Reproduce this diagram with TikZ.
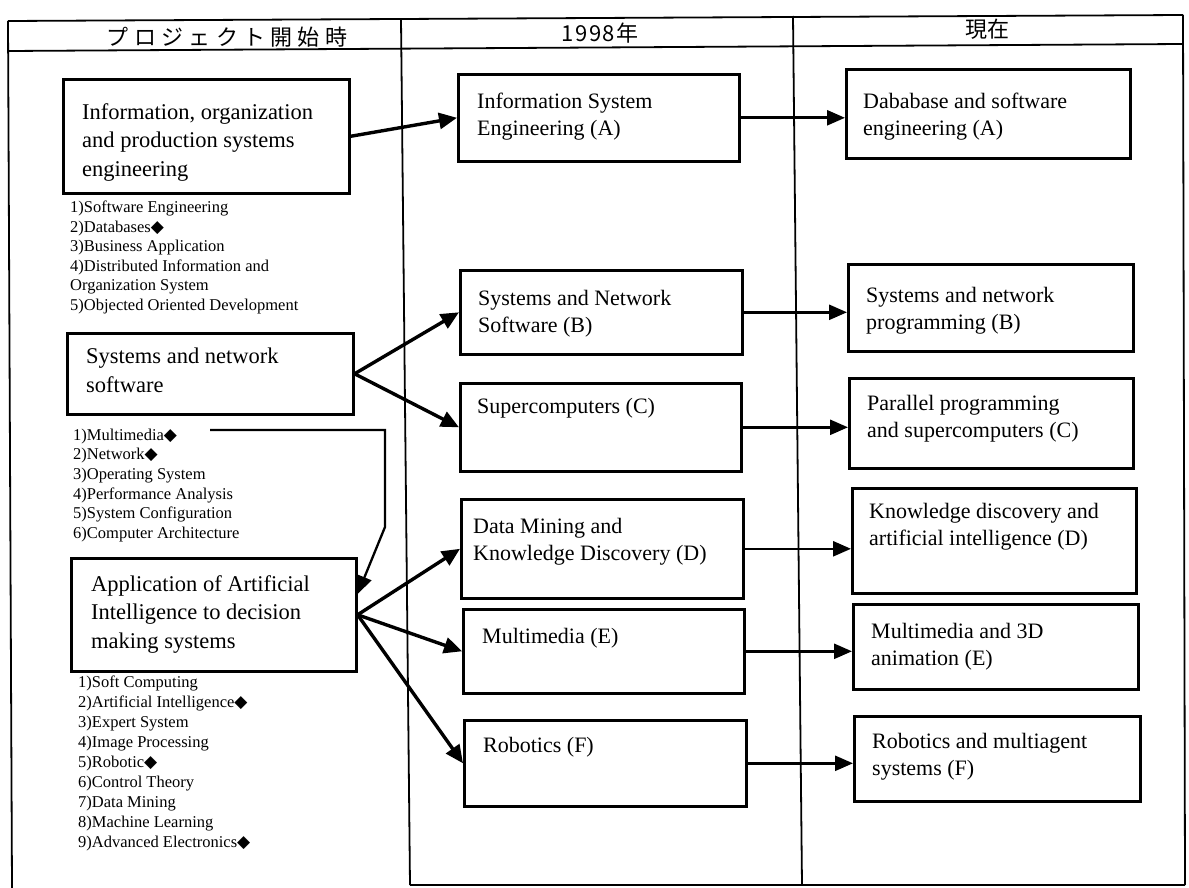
\documentclass[tikz,border=0pt]{standalone}
\usepackage{fontspec}
\setmainfont{Liberation Serif}
\newfontfamily\jpfont{Noto Sans CJK JP}
\newfontfamily\dmdfont{DejaVu Sans}
\usetikzlibrary{calc, positioning}
\usetikzlibrary{arrows.meta}

\newcommand{\dmd}{{\dmdfont\fontsize{17pt}{17pt}\selectfont ◆}}

\begin{document}
\begin{tikzpicture}[x=1pt, y=-1pt,
  frame/.style={line width=1.8pt},
  stagebox/.style={draw, line width=2.6pt, anchor=north west, inner sep=0pt},
  stagetext/.style={anchor=north west, align=left, inner sep=0pt,
    font=\fontsize{22pt}{27pt}\selectfont},
  topictext/.style={anchor=north west, align=left, inner sep=0pt,
    font=\fontsize{22.5pt}{28.5pt}\selectfont},
  itemlist/.style={anchor=north west, align=left, inner sep=0pt,
    font=\fontsize{16.5pt}{19.6pt}\selectfont},
  colhead/.style={font=\jpfont\fontsize{22pt}{26pt}\selectfont, inner sep=0pt},
  splitarrow/.style={line width=3.4pt, -{Triangle[length=18pt, width=16pt]}},
  keeparrow/.style={line width=2.6pt, -{Triangle[length=18pt, width=15pt]}},
  mmarrow/.style={line width=2.3pt, -{Triangle[length=18pt, width=15pt]}}
]
\useasboundingbox (0,0) rectangle (1189,888);

% table frame
\draw[frame] (8,21) -- (1183,15);
\draw[frame] (8,51) -- (1183,44);
\draw[frame] (8,21) -- (12,888);
\draw[frame] (401,19) -- (410,885);
\draw[frame] (793,16) -- (802,885);
\draw[frame] (1183,15) -- (1185,885);
\draw[frame] (410,885) -- (1185,885);

\node[colhead] (hstart) at (227,37) {\addfontfeature{LetterSpace=24}プロジェクト開始時};
\node[colhead] (h1998) at (600,33) {\addfontfeature{LetterSpace=8}1998年};
\node[colhead] (hnow) at (987,29) {現在};

% project start
\node[stagebox, minimum width=286pt, minimum height=114pt] (info) at (62,78) {};
\node[topictext, below right=25pt and 20pt of info.north west] (infot)
  {Information, organization\\and production systems\\engineering};
\node[itemlist, below right=6pt and 8pt of info.south west] (infol)
  {1)Software Engineering\\2)Databases\dmd\\3)Business Application\\
   4)Distributed Information and\\Organization System\\5)Objected Oriented Development};

\node[stagebox, minimum width=286pt, minimum height=81pt] (sysnet) at (66,332) {};
\node[topictext, below right=16pt and 20pt of sysnet.north west] (sysnett)
  {Systems and network\\software};
\node[itemlist, below right=13pt and 7pt of sysnet.south west] (sysnetl)
  {1)Multimedia\dmd\\2)Network\dmd\\3)Operating System\\4)Performance Analysis\\
   5)System Configuration\\6)Computer Architecture};

\node[stagebox, minimum width=285pt, minimum height=113pt] (aidm) at (70,557) {};
\node[topictext, below right=18pt and 21pt of aidm.north west] (aidmt)
  {Application of Artificial\\Intelligence to decision\\making systems};
\node[itemlist, font=\fontsize{16.5pt}{20pt}\selectfont,
  below right=3pt and 8pt of aidm.south west] (aidml)
  {1)Soft Computing\\2)Artificial Intelligence\dmd\\3)Expert System\\4)Image Processing\\
   5)Robotic\dmd\\6)Control Theory\\7)Data Mining\\8)Machine Learning\\
   9)Advanced Electronics\dmd};

% 1998
\node[stagebox, minimum width=281pt, minimum height=87pt] (isA) at (457,73) {};
\node[stagetext, below right=20pt and 20pt of isA.north west] (isAt)
  {Information System\\Engineering (A)};
\node[stagebox, minimum width=282pt, minimum height=84pt] (snB) at (459,269) {};
\node[stagetext, below right=21pt and 19pt of snB.north west] (snBt)
  {Systems and Network\\Software (B)};
\node[stagebox, minimum width=281pt, minimum height=88pt] (scC) at (459,382) {};
\node[stagetext, below right=16pt and 18pt of scC.north west] (scCt)
  {Supercomputers (C)};
\node[stagebox, minimum width=282pt, minimum height=99pt] (dmD) at (460,498) {};
\node[stagetext, below right=20pt and 13pt of dmD.north west] (dmDt)
  {Data Mining and\\Knowledge Discovery (D)};
\node[stagebox, minimum width=281pt, minimum height=84pt] (mmE) at (462,608) {};
\node[stagetext, below right=20pt and 20pt of mmE.north west] (mmEt)
  {Multimedia (E)};
\node[stagebox, minimum width=282pt, minimum height=86pt] (rbF) at (463,719) {};
\node[stagetext, below right=18pt and 20pt of rbF.north west] (rbFt)
  {Robotics (F)};

% now
\node[stagebox, minimum width=284pt, minimum height=89pt] (dbA) at (845,68) {};
\node[stagetext, below right=25pt and 18pt of dbA.north west] (dbAt)
  {Dababase and software\\engineering (A)};
\node[stagebox, minimum width=285pt, minimum height=87pt] (spB) at (847,263) {};
\node[stagetext, below right=24pt and 19pt of spB.north west] (spBt)
  {Systems and network\\programming (B)};
\node[stagebox, minimum width=284pt, minimum height=90pt] (ppC) at (848,377) {};
\node[stagetext, below right=18pt and 19pt of ppC.north west] (ppCt)
  {Parallel programming\\and supercomputers (C)};
\node[stagebox, minimum width=284pt, minimum height=105pt] (kdD) at (851,487) {};
\node[stagetext, below right=16pt and 18pt of kdD.north west] (kdDt)
  {Knowledge discovery and\\artificial intelligence (D)};
\node[stagebox, minimum width=285pt, minimum height=85pt] (m3E) at (852,603) {};
\node[stagetext, below right=20pt and 19pt of m3E.north west] (m3Et)
  {Multimedia and 3D\\animation (E)};
\node[stagebox, minimum width=286pt, minimum height=85pt] (maF) at (853,715) {};
\node[stagetext, below right=18pt and 19pt of maF.north west] (maFt)
  {Robotics and multiagent\\systems (F)};

% start -> 1998
\draw[splitarrow] (info.east) -- (isA.west);
\draw[splitarrow] (sysnet.east) -- (snB.west);
\draw[splitarrow] (sysnet.east) -- (scC.west);
\draw[splitarrow] (aidm.east) -- (dmD.west);
\draw[splitarrow] (aidm.east) -- (mmE.west);
\draw[splitarrow] (aidm.east) -- (rbF.west);

\coordinate (mmfrom) at (210,430);
\coordinate (mmdrop) at (385,527);
\draw[mmarrow] (mmfrom) -| (mmdrop) -- ($(aidm.north east)!0.32!(aidm.south east)$);

% 1998 -> now
\foreach \a/\b in {isA/dbA, snB/spB, scC/ppC, dmD/kdD, mmE/m3E, rbF/maF}
  \draw[keeparrow] (\a.east) -- (\a.east -| \b.west);
\end{tikzpicture}
\end{document}
